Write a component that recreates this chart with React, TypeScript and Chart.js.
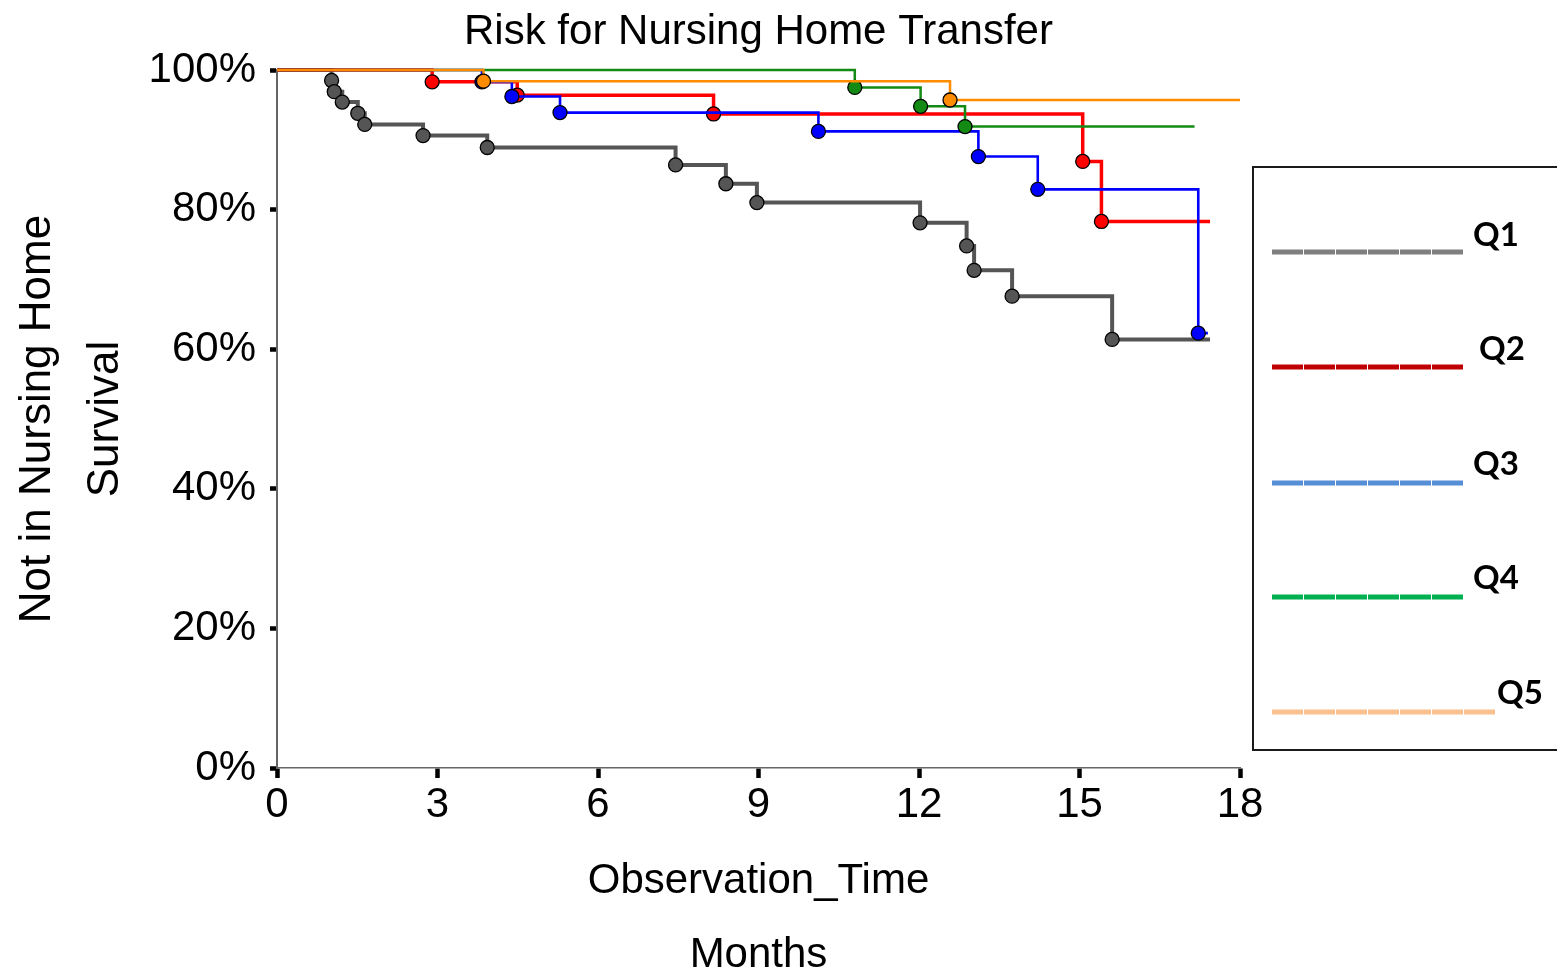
import React, { useEffect, useRef } from "react";
import { Chart, registerables } from "chart.js";

Chart.register(...registerables);

// Kaplan–Meier event times (months) and survival (%) per quintile
const groupNames = ["Q1", "Q2", "Q3", "Q4", "Q5"];

const q1Times = [1.02, 1.07, 1.22, 1.51, 1.64, 2.73, 3.93, 7.45, 8.39, 8.97, 12.02, 12.89, 13.03, 13.74, 15.61];
const q1Surv = [98.5, 96.9, 95.4, 93.8, 92.2, 90.6, 88.9, 86.4, 83.7, 81.0, 78.1, 74.8, 71.3, 67.6, 61.4];
const q1Last = 17.44;

const q2Times = [2.9, 4.49, 8.16, 15.06, 15.41];
const q2Surv = [98.3, 96.4, 93.7, 86.9, 78.3];
const q2Last = 17.44;

const q3Times = [3.83, 4.39, 5.29, 10.12, 13.11, 14.22, 17.22];
const q3Surv = [98.3, 96.2, 93.9, 91.2, 87.6, 82.9, 62.3];
const q3Last = 17.4;

const q4Times = [10.8, 12.03, 12.86];
const q4Surv = [97.5, 94.8, 91.9];
const q4Last = 17.15;

const q5Times = [3.86, 12.58];
const q5Surv = [98.4, 95.7];
const q5Last = 18.0;

const xTickValues = [0, 3, 6, 9, 12, 15, 18];
const yTickValues = [0, 20, 40, 60, 80, 100];

const curveColors = ["#555555", "#ff0000", "#0000ff", "#138a13", "#ff8c00"];
const curveWidths = [4, 3.5, 2.6, 2.5, 2.5];
const legendColors = ["#7f7f7f", "#c00000", "#558ed5", "#00b050", "#fac090"];

const FONT = '"Liberation Sans", Arial, Helvetica, sans-serif';

type Pt = { x: number; y: number };

function kmCurve(times: number[], surv: number[], last: number): Pt[] {
  const pts: Pt[] = [{ x: 0, y: 100 }];
  times.forEach((t, i) => pts.push({ x: t, y: surv[i] }));
  pts.push({ x: last, y: surv[surv.length - 1] });
  return pts;
}

const textPlugin = {
  id: "kmText",
  afterDraw(chart: any) {
    const ctx: CanvasRenderingContext2D = chart.ctx;
    const { left, right, top, bottom } = chart.chartArea;
    const cx = (left + right) / 2;
    const cy = (top + bottom) / 2;
    ctx.save();
    ctx.fillStyle = "#000";
    ctx.textAlign = "center";
    ctx.textBaseline = "alphabetic";

    ctx.font = `42px ${FONT}`;
    ctx.fillText("Risk for Nursing Home Transfer", cx, 44);
    ctx.fillText("Observation_Time", cx, 893);
    ctx.fillText("Months", cx, 967);

    ctx.font = `44px ${FONT}`;
    ctx.save();
    ctx.translate(50, cy);
    ctx.rotate(-Math.PI / 2);
    ctx.fillText("Not in Nursing Home", 0, 0);
    ctx.restore();
    ctx.save();
    ctx.translate(118, cy);
    ctx.rotate(-Math.PI / 2);
    ctx.fillText("Survival", 0, 0);
    ctx.restore();

    // legend panel
    ctx.strokeStyle = "#1a1a1a";
    ctx.lineWidth = 2;
    ctx.strokeRect(1253, 167, 320, 583);

    const lineYs = [252, 367, 483, 597, 712];
    const lineEnds = [1464, 1464, 1464, 1464, 1496];
    const labelXs = [1473, 1479, 1473, 1473, 1497];
    const baseYs = [246, 360, 475, 589, 704];
    groupNames.forEach((name, i) => {
      ctx.strokeStyle = legendColors[i];
      ctx.lineWidth = 5;
      ctx.lineCap = "butt";
      ctx.setLineDash([31, 1]);
      ctx.beginPath();
      ctx.moveTo(1272, lineYs[i]);
      ctx.lineTo(lineEnds[i], lineYs[i]);
      ctx.stroke();
      ctx.setLineDash([]);
      ctx.font = `bold 33px Lato, "Open Sans", sans-serif`;
      ctx.textAlign = "left";
      ctx.fillStyle = "#000";
      ctx.fillText(name, labelXs[i], baseYs[i]);
    });
    ctx.restore();
  },
};

export default function App() {
  const canvasRef = useRef<HTMLCanvasElement | null>(null);

  useEffect(() => {
    if (!canvasRef.current) return;
    const series = [
      kmCurve(q1Times, q1Surv, q1Last),
      kmCurve(q2Times, q2Surv, q2Last),
      kmCurve(q3Times, q3Surv, q3Last),
      kmCurve(q4Times, q4Surv, q4Last),
      kmCurve(q5Times, q5Surv, q5Last),
    ];
    const drawOrder = [4, 3, 2, 1, 0];
    const datasets = series.map((data, i) => ({
      label: groupNames[i],
      data,
      stepped: true as const,
      borderColor: curveColors[i],
      borderWidth: curveWidths[i],
      borderJoinStyle: "miter" as const,
      fill: false,
      pointRadius: data.map((_, k) => (k === 0 || k === data.length - 1 ? 0 : 7)),
      pointBackgroundColor: curveColors[i],
      pointBorderColor: "#000",
      pointBorderWidth: 1.3,
      order: drawOrder[i],
      clip: false as const,
    }));

    const chart = new Chart(canvasRef.current, {
      type: "line",
      data: { datasets },
      options: {
        responsive: false,
        animation: false,
        events: [],
        layout: { padding: { left: 0, top: 70, right: 317, bottom: 0 } },
        plugins: {
          legend: { display: false },
          tooltip: { enabled: false },
          title: { display: false },
        },
        scales: {
          x: {
            type: "linear",
            min: 0,
            max: 18,
            afterBuildTicks: (s: any) => {
              s.ticks = xTickValues.map((v) => ({ value: v }));
            },
            afterFit: (s: any) => {
              s.height = 973 - 768;
            },
            ticks: {
              color: "#000",
              font: { family: FONT, size: 42 },
              padding: 2,
              maxRotation: 0,
              autoSkip: false,
            },
            grid: {
              display: true,
              drawOnChartArea: false,
              drawTicks: true,
              tickLength: 10,
              tickWidth: 4.5,
              tickColor: "#000",
            },
            border: { display: true, color: "#666", width: 1.5 },
          },
          y: {
            type: "linear",
            min: 0,
            max: 100,
            afterBuildTicks: (s: any) => {
              s.ticks = yTickValues.map((v) => ({ value: v }));
            },
            afterFit: (s: any) => {
              s.width = 277;
            },
            ticks: {
              color: "#000",
              font: { family: FONT, size: 42 },
              padding: 14,
              callback: (v: any) => `${v}%`,
            },
            grid: {
              display: true,
              drawOnChartArea: false,
              drawTicks: true,
              tickLength: 7,
              tickWidth: 4.5,
              tickColor: "#000",
            },
            border: { display: true, color: "#666", width: 2 },
          },
        },
      },
      plugins: [textPlugin],
    });
    return () => chart.destroy();
  }, []);

  return (
    <div style={{ position: "absolute", left: 0, top: 0, width: 1557, height: 973, background: "#fff" }}>
      <canvas ref={canvasRef} width={1557} height={973} />
    </div>
  );
}
